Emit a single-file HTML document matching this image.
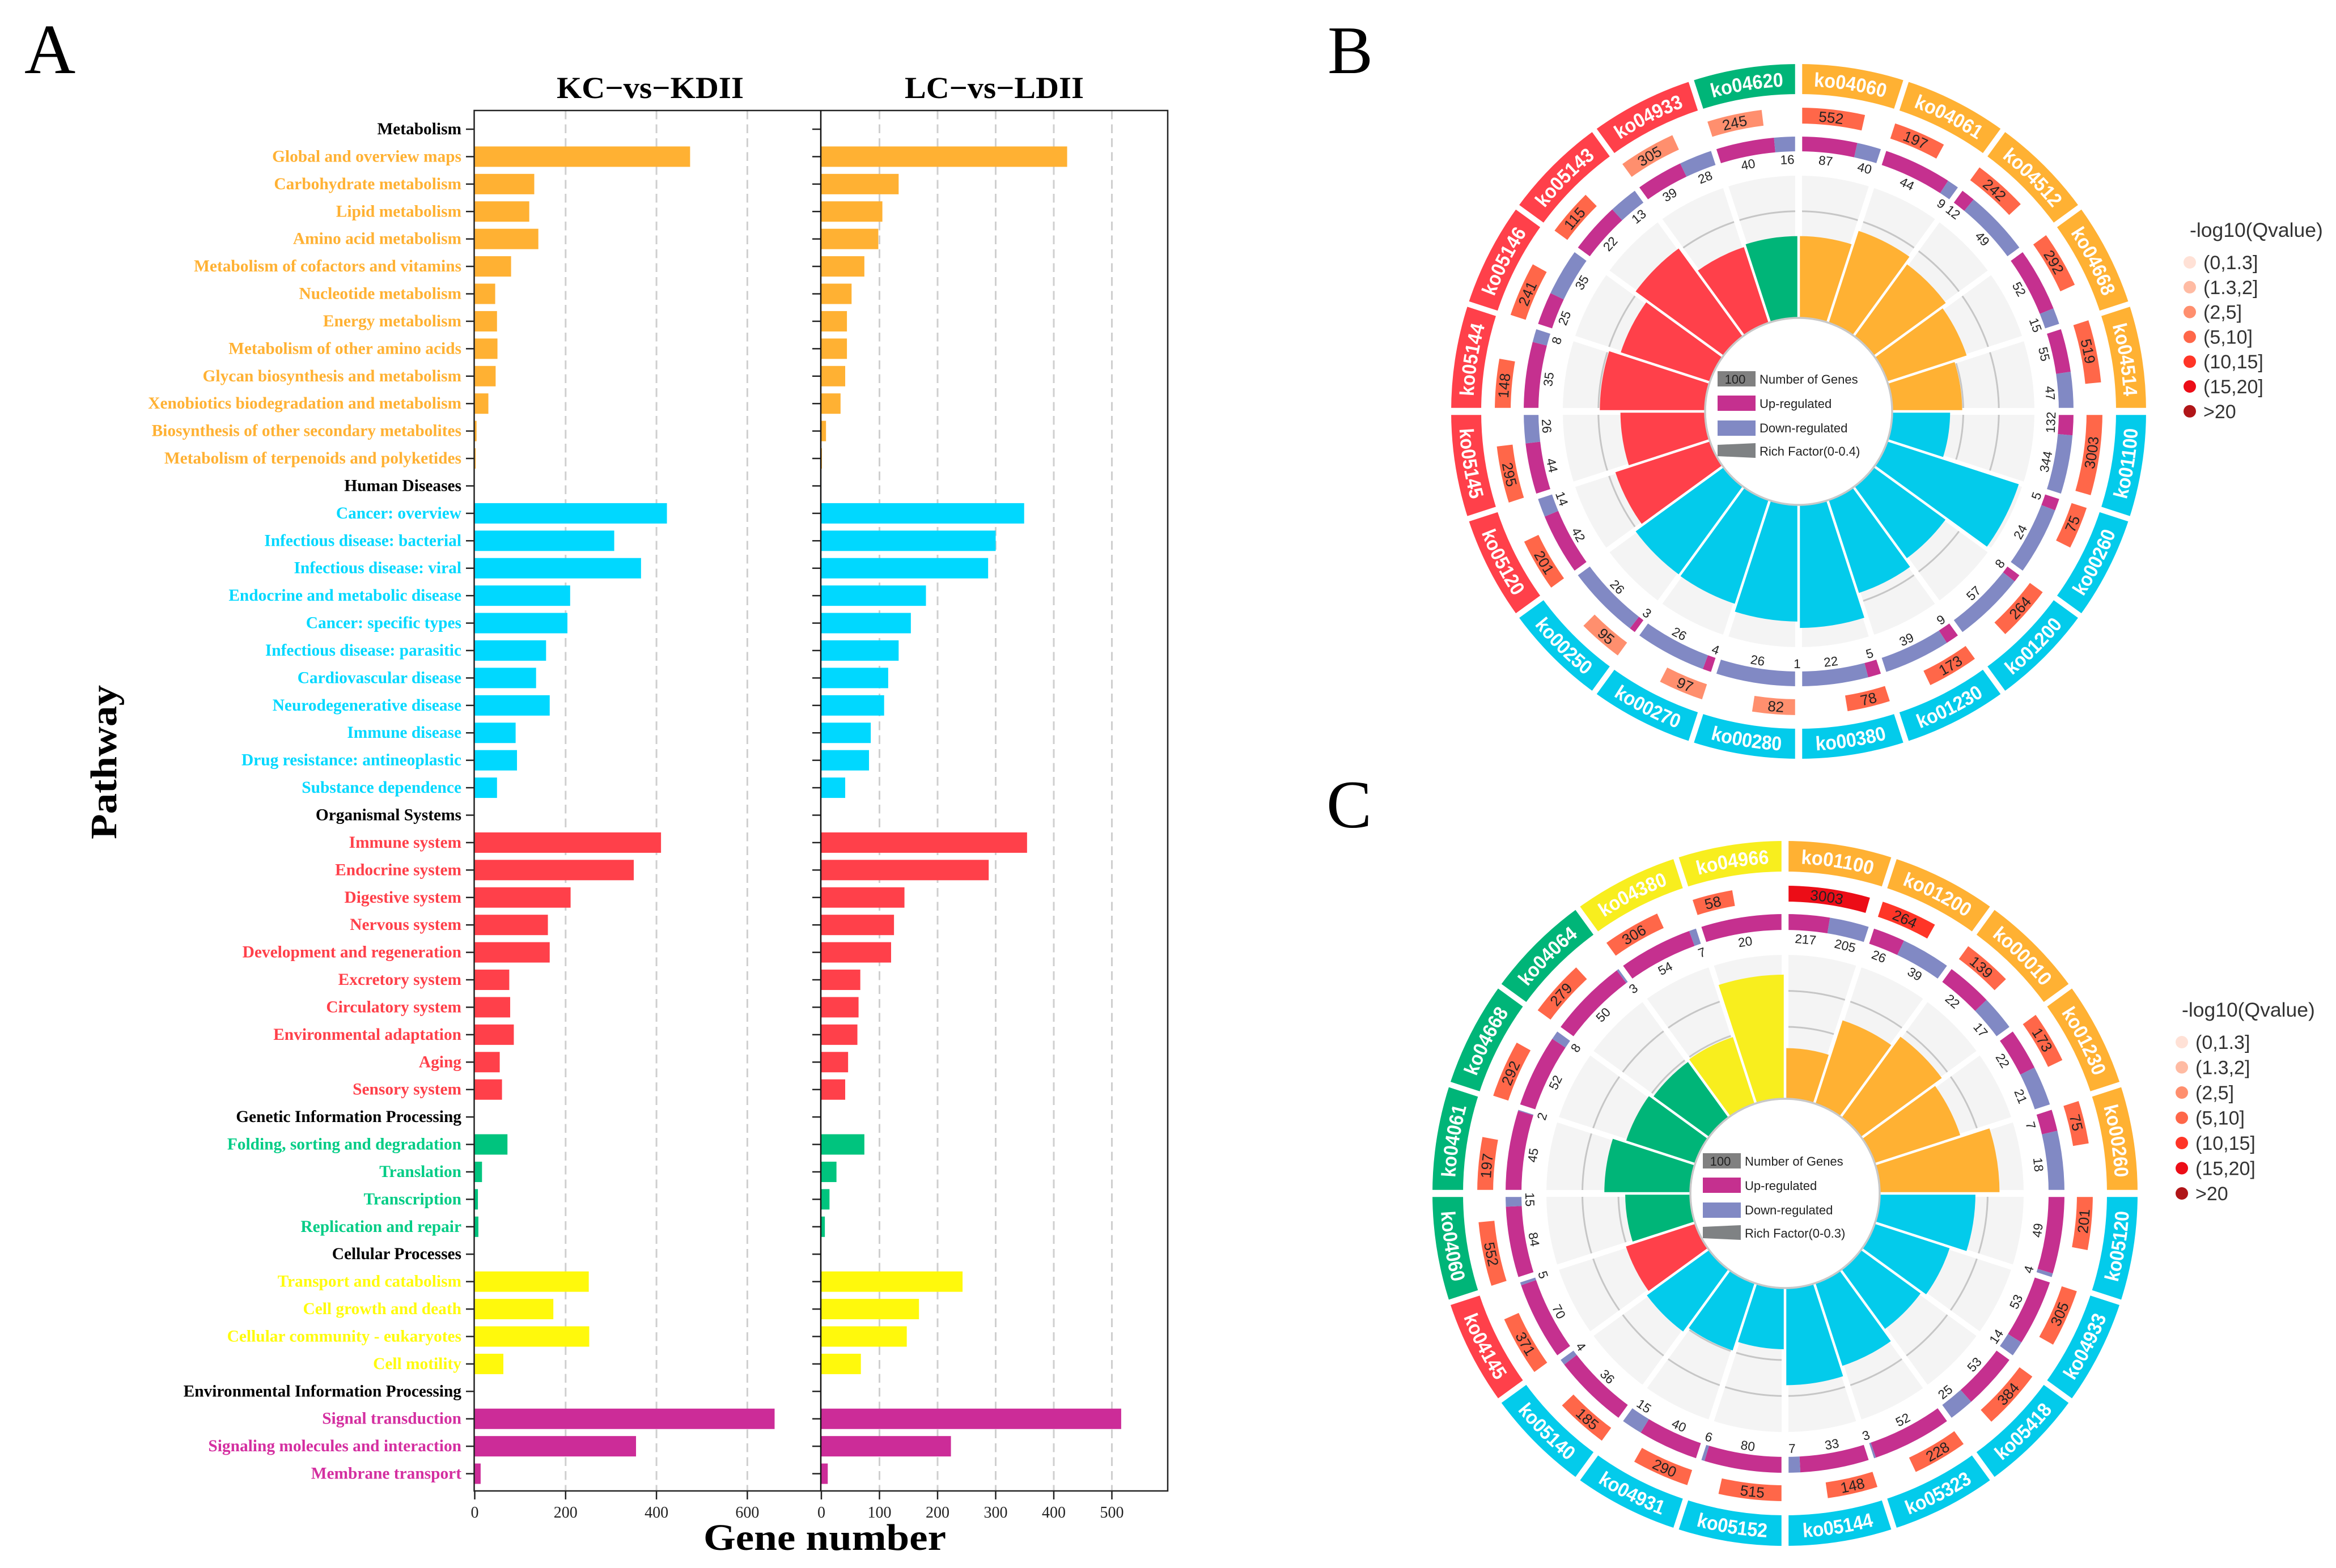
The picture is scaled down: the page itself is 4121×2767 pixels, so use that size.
<!DOCTYPE html>
<html lang="en">
<head>
<meta charset="utf-8">
<title>KEGG pathway bar charts and circular enrichment plots</title>
<style>
html,body{margin:0;padding:0;background:#fff;}
svg{display:block;}
</style>
</head>
<body>
<svg id="figure" xmlns="http://www.w3.org/2000/svg" width="4121" height="2767" viewBox="0 0 4121 2767" font-family="'Liberation Sans', sans-serif">
  <rect x="0" y="0" width="4121" height="2767" fill="#ffffff"/>
  <text x="43" y="129" font-family="'Liberation Serif', serif" font-size="125" fill="#000">A</text>
  <text x="2342" y="129" font-family="'Liberation Serif', serif" font-size="120" fill="#000">B</text>
  <text x="2340" y="1460" font-family="'Liberation Serif', serif" font-size="120" fill="#000">C</text>
  <text x="1147" y="173" text-anchor="middle" font-family="'Liberation Serif', serif" font-weight="bold" font-size="54" textLength="330" lengthAdjust="spacingAndGlyphs" fill="#000">KC−vs−KDII</text>
  <text x="1754" y="173" text-anchor="middle" font-family="'Liberation Serif', serif" font-weight="bold" font-size="54" textLength="316" lengthAdjust="spacingAndGlyphs" fill="#000">LC−vs−LDII</text>
  <text x="1455" y="2735" text-anchor="middle" font-family="'Liberation Serif', serif" font-weight="bold" font-size="66" textLength="428" lengthAdjust="spacingAndGlyphs" fill="#000">Gene number</text>
  <text transform="translate(205,1345) rotate(-90)" text-anchor="middle" font-family="'Liberation Serif', serif" font-weight="bold" font-size="66" textLength="272" lengthAdjust="spacingAndGlyphs" fill="#000">Pathway</text>
  <g id="bar-panels"></g>
  <g id="circle-b"></g>
  <g id="circle-c"></g>
</svg>
<script>
// ---------- Panel A data ----------
const pathways = ["Metabolism","Global and overview maps","Carbohydrate metabolism","Lipid metabolism","Amino acid metabolism","Metabolism of cofactors and vitamins","Nucleotide metabolism","Energy metabolism","Metabolism of other amino acids","Glycan biosynthesis and metabolism","Xenobiotics biodegradation and metabolism","Biosynthesis of other secondary metabolites","Metabolism of terpenoids and polyketides","Human Diseases","Cancer: overview","Infectious disease: bacterial","Infectious disease: viral","Endocrine and metabolic disease","Cancer: specific types","Infectious disease: parasitic","Cardiovascular disease","Neurodegenerative disease","Immune disease","Drug resistance: antineoplastic","Substance dependence","Organismal Systems","Immune system","Endocrine system","Digestive system","Nervous system","Development and regeneration","Excretory system","Circulatory system","Environmental adaptation","Aging","Sensory system","Genetic Information Processing","Folding, sorting and degradation","Translation","Transcription","Replication and repair","Cellular Processes","Transport and catabolism","Cell growth and death","Cellular community - eukaryotes","Cell motility","Environmental Information Processing","Signal transduction","Signaling molecules and interaction","Membrane transport"];
const pathwayClass = ["head","orange","orange","orange","orange","orange","orange","orange","orange","orange","orange","orange","orange","head","cyan","cyan","cyan","cyan","cyan","cyan","cyan","cyan","cyan","cyan","cyan","head","red","red","red","red","red","red","red","red","red","red","head","green","green","green","green","head","yellow","yellow","yellow","yellow","head","magenta","magenta","magenta"];
const kcGenes = [null,474,131,120,140,80,45,49,50,46,30,4,2,null,423,307,366,210,204,157,135,165,90,93,49,null,410,350,211,161,165,76,78,86,55,60,null,72,16,7,8,null,251,173,252,63,null,660,355,13];
const lcGenes = [null,423,133,105,98,74,52,44,44,41,33,8,1,null,349,300,287,180,154,133,115,108,85,82,41,null,354,288,143,125,120,67,64,62,46,41,null,74,26,14,6,null,243,168,147,68,null,516,223,11];
const kcTicks = [0,200,400,600];
const lcTicks = [0,100,200,300,400,500];

// ---------- Panel B data ----------
const bPathwayIds = ["ko04060","ko04061","ko04512","ko04668","ko04514","ko01100","ko00260","ko01200","ko01230","ko00380","ko00280","ko00270","ko00250","ko05120","ko05145","ko05144","ko05146","ko05143","ko04933","ko04620"];
const bClass = ["orange","orange","orange","orange","orange","cyan","cyan","cyan","cyan","cyan","cyan","cyan","cyan","red","red","red","red","red","red","green"];
const bTotals = [552,197,242,292,519,3003,75,264,173,78,82,97,95,201,295,148,241,115,305,245];
const bQLevels = [3,3,3,3,3,3,3,3,3,3,2,2,2,3,3,3,3,3,2,2];
const bUp = [87,44,12,52,55,132,5,8,9,5,1,4,3,42,44,35,25,22,39,40];
const bDown = [40,9,49,15,47,344,24,57,39,22,26,26,26,14,26,8,35,13,28,16];
const bRich = [0.230,0.272,0.251,0.235,0.197,0.163,0.389,0.250,0.275,0.346,0.328,0.307,0.306,0.280,0.238,0.296,0.264,0.306,0.224,0.230];

// ---------- Panel C data ----------
const cPathwayIds = ["ko01100","ko01200","ko00010","ko01230","ko00260","ko05120","ko04933","ko05418","ko05323","ko05144","ko05152","ko04931","ko05140","ko04145","ko04060","ko04061","ko04668","ko04064","ko04380","ko04966"];
const cClass = ["orange","orange","orange","orange","orange","cyan","cyan","cyan","cyan","cyan","cyan","cyan","cyan","red","green","green","green","green","yellow","yellow"];
const cTotals = [3003,264,139,173,75,201,305,384,228,148,515,290,185,371,552,197,292,279,306,58];
const cQLevels = [5,4,3,3,3,3,3,3,3,3,3,3,3,3,3,3,3,3,3,3];
const cUp = [217,26,22,22,7,49,53,53,52,33,80,40,36,70,84,45,52,50,54,20];
const cDown = [205,39,17,21,18,4,14,25,3,7,6,15,4,5,15,2,8,3,7,0];
const cRich = [0.141,0.244,0.278,0.250,0.333,0.266,0.219,0.205,0.242,0.270,0.170,0.197,0.214,0.203,0.181,0.239,0.202,0.191,0.195,0.345];

// ---------- Shared legend text ----------
const qLegendLabels = ["(0,1.3]","(1.3,2]","(2,5]","(5,10]","(10,15]","(15,20]",">20"];
const qLegendColors = ["#FFE1D6","#FFBBA3","#FF8F6E","#FF6749","#FF3527","#EC0D17","#B01518"];
const barColors = {head:"#000000",orange:"#FFB133",cyan:"#00D8FF",red:"#FF404A",green:"#00C47E",yellow:"#FFF90C",magenta:"#CC2C98"};
const labelColors = {head:"#000000",orange:"#FFB133",cyan:"#00D8FF",red:"#FF404A",green:"#00CC85",yellow:"#FFFB0C",magenta:"#D42FA0"};
const ringColors = {orange:"#FFB133",cyan:"#03CBEB",red:"#FF404A",green:"#00B578",yellow:"#F8EE1E"};

const NS = "http://www.w3.org/2000/svg";
function mk(tag, attrs, parent, text){
  const n = document.createElementNS(NS, tag);
  for (const k in attrs) n.setAttribute(k, attrs[k]);
  if (text !== undefined) n.textContent = text;
  parent.appendChild(n);
  return n;
}

// ---------- Panel A drawing ----------
const rowY = i => 228 + i * 48.42;
const kcX = v => 837.5 + v * 0.8015;
const lcX = v => 1449 + v * 1.025;
const panelTop = 195, panelBottom = 2631, panelRight = 2060;
const barRoot = document.getElementById("bar-panels");

function drawGrid(ticks, xFn, name){
  ticks.forEach(t => {
    if (t !== 0) {
      const g = mk("line",{x1:xFn(t),x2:xFn(t),y1:panelTop,y2:panelBottom,stroke:"#cfcfcf","stroke-width":3,"stroke-dasharray":"15.5 9"},barRoot);
      
      
    }
  });
}
function drawBars(values, xFn, name){
  values.forEach((v,i) => {
    if (v === null) return;
    const b = mk("rect",{x:xFn(0),y:rowY(i)-18,width:xFn(v)-xFn(0),height:36,fill:barColors[pathwayClass[i]]},barRoot);
    
    
  });
}
function drawXAxis(ticks, xFn, name){
  ticks.forEach(t => {
    const tk = mk("line",{x1:xFn(t),x2:xFn(t),y1:panelBottom,y2:panelBottom+15,stroke:"#222","stroke-width":2.5},barRoot);
    
    
    const lb = mk("text",{x:xFn(t),y:panelBottom+47,"text-anchor":"middle","font-family":"'Liberation Serif', serif","font-size":28,fill:"#222"},barRoot,String(t));
    
    
  });
}
drawGrid(kcTicks, kcX, "kc");
drawGrid(lcTicks, lcX, "lc");
drawBars(kcGenes, kcX, "kc");
drawBars(lcGenes, lcX, "lc");
pathways.forEach((name,i) => {
  const t = mk("text",{x:814,y:rowY(i)+9,"text-anchor":"end","font-family":"'Liberation Serif', serif","font-weight":"bold","font-size":29.4,fill:labelColors[pathwayClass[i]]},barRoot,name);
  
  
  const a = mk("line",{x1:822,x2:836,y1:rowY(i),y2:rowY(i),stroke:"#222","stroke-width":2.5},barRoot);
  
  
  const c = mk("line",{x1:1433,x2:1448,y1:rowY(i),y2:rowY(i),stroke:"#222","stroke-width":2.5},barRoot);
  
  
});
drawXAxis(kcTicks, kcX, "kc");
drawXAxis(lcTicks, lcX, "lc");
const kcFrame = mk("rect",{x:836.5,y:panelTop,width:panelRight-836.5,height:panelBottom-panelTop,fill:"none",stroke:"#222","stroke-width":2.5},barRoot);


const midLine = mk("line",{x1:1448,x2:1448,y1:panelTop,y2:panelBottom,stroke:"#111","stroke-width":2.5},barRoot);



// ---------- Circular plots ----------
let pathCounter = 0;
function pt(cx,cy,r,deg){
  const a = deg * Math.PI / 180;
  return [cx + r * Math.sin(a), cy - r * Math.cos(a)];
}
function sectorPath(cx,cy,r0,r1,a0,a1){
  const p0 = pt(cx,cy,r1,a0), p1 = pt(cx,cy,r1,a1), p2 = pt(cx,cy,r0,a1), p3 = pt(cx,cy,r0,a0);
  const lg = (a1 - a0) > 180 ? 1 : 0;
  return `M${p0[0].toFixed(2)} ${p0[1].toFixed(2)}A${r1} ${r1} 0 ${lg} 1 ${p1[0].toFixed(2)} ${p1[1].toFixed(2)}L${p2[0].toFixed(2)} ${p2[1].toFixed(2)}A${r0} ${r0} 0 ${lg} 0 ${p3[0].toFixed(2)} ${p3[1].toFixed(2)}Z`;
}
function curvedText(root, defs, cx, cy, rMid, midDeg, fs, str, fill, weight, name, fitLength){
  const norm = ((midDeg % 360) + 360) % 360;
  const top = norm < 90 || norm > 270;
  const r = top ? rMid - 0.36 * fs : rMid + 0.36 * fs;
  const span = 40;
  const from = pt(cx,cy,r, top ? midDeg - span : midDeg + span);
  const to = pt(cx,cy,r, top ? midDeg + span : midDeg - span);
  const id = "arc-path-" + (++pathCounter);
  const d = `M${from[0].toFixed(2)} ${from[1].toFixed(2)}A${r} ${r} 0 0 ${top ? 1 : 0} ${to[0].toFixed(2)} ${to[1].toFixed(2)}`;
  mk("path",{id:id,d:d,fill:"none"},defs);
  const t = mk("text",{"font-size":fs,"font-weight":weight,fill:fill,"text-anchor":"middle"},root);
  
  
  const tp = mk("textPath",{href:"#"+id,startOffset:"50%"},t,str);
  if (fitLength) {
    tp.setAttribute("textLength", fitLength);
    tp.setAttribute("lengthAdjust", "spacingAndGlyphs");
  }
  return tp;
}
function radialGap(root,cx,cy,r0,r1,deg,w,name){
  const a = pt(cx,cy,r0,deg), b = pt(cx,cy,r1,deg);
  const l = mk("line",{x1:a[0],y1:a[1],x2:b[0],y2:b[1],stroke:"#fff","stroke-width":w},root);
  
  
}
function drawCircle(root, ids, classes, totals, levels, up, down, rich, cfg){
  const cx = cfg.cx, cy = cfg.cy, n = ids.length, step = 360 / n;
  const defs = mk("defs",{},root);
  const richR = v => cfg.hole + (cfg.gray - cfg.hole) * v / 0.4;
  const isCard = i => (i * step) % 90 === 0;

  // grey rich-factor background and grid arcs
  for (let i = 0; i < n; i++) {
    const g = mk("path",{d:sectorPath(cx,cy,cfg.hole,cfg.gray,i*step,(i+1)*step),fill:"#F4F4F4"},root);
    
    
  }
  [0.1,0.2,0.3].forEach(v => {
    const c = mk("circle",{cx:cx,cy:cy,r:richR(v),fill:"none",stroke:"#C6C6C6","stroke-width":3},root);
    
    
  });
  for (let i = 0; i < n; i++) {
    radialGap(root,cx,cy,cfg.hole,cfg.gray+3,i*step,isCard(i)?12:10,'sector-gap');
  }
  // rich-factor bars
  for (let i = 0; i < n; i++) {
    const b = mk("path",{d:sectorPath(cx,cy,cfg.hole-2,richR(rich[i]),i*step,(i+1)*step),fill:ringColors[classes[i]]},root);
    
    
  }
  for (let i = 0; i < n; i++) {
    const reach = Math.max(richR(rich[i]), richR(rich[(i + n - 1) % n])) + 2;
    radialGap(root,cx,cy,cfg.hole,reach,i*step,4.5,'bar-gap');
  }

  // up / down ring
  for (let i = 0; i < n; i++) {
    const a0 = i * step, tot = up[i] + down[i], split = a0 + step * up[i] / tot;
    const u = mk("path",{d:sectorPath(cx,cy,cfg.ud0,cfg.ud1,a0,split),fill:"#C5308F"},root);
    
    
    if (down[i] > 0) {
      const d = mk("path",{d:sectorPath(cx,cy,cfg.ud0,cfg.ud1,split,a0+step),fill:"#8189C4"},root);
      
      
    }
  }
  // total gene boxes (angular width grows with the log of the total)
  for (let i = 0; i < n; i++) {
    const a0 = i * step, w = Math.min(step - 1, 2 * Math.log(totals[i]));
    const q = mk("path",{d:sectorPath(cx,cy,cfg.q0,cfg.q1,a0,a0+w),fill:qLegendColors[levels[i]]},root);
    
    
  }
  // outer pathway ring
  for (let i = 0; i < n; i++) {
    const o = mk("path",{d:sectorPath(cx,cy,cfg.o0,cfg.o1,i*step,(i+1)*step),fill:ringColors[classes[i]]},root);
    
    
  }
  for (let i = 0; i < n; i++) {
    radialGap(root,cx,cy,cfg.gray+4,cfg.o1+3,i*step,isCard(i)?12.5:10,'ring-gap');
  }
  // ring text
  for (let i = 0; i < n; i++) {
    const a0 = i * step, mid = a0 + step / 2;
    curvedText(root,defs,cx,cy,(cfg.o0+cfg.o1)/2,mid,35,ids[i],"#fff","bold",'pathway-id-label',127);
    const w = Math.min(step - 1, 2 * Math.log(totals[i]));
    curvedText(root,defs,cx,cy,(cfg.q0+cfg.q1)/2,a0+w/2,26,String(totals[i]),"#222","normal",'gene-total-label');
    const tot = up[i] + down[i], split = a0 + step * up[i] / tot;
    const entries = down[i] > 0 ? [[up[i],(a0+split)/2],[down[i],(split+a0+step)/2]] : [[up[i],(a0+split)/2]];
    entries.forEach(e => {
      const p = pt(cx,cy,cfg.num,e[1]);
      const norm = ((e[1] % 360) + 360) % 360;
      const rot = (norm < 90 || norm > 270) ? e[1] : e[1] + 180;
      const t = mk("text",{x:0,y:8,"text-anchor":"middle","font-size":22.5,fill:"#222",transform:`translate(${p[0].toFixed(2)},${p[1].toFixed(2)}) rotate(${rot})`},root,String(e[0]));
      
      
    });
  }
  // centre hole and legend
  const hole = mk("circle",{cx:cx,cy:cy,r:cfg.hole,fill:"#fff",stroke:"#C8C8C8","stroke-width":3.5},root);
  
  
  const sx = cx + cfg.swatchX, sw = 67, tx = sx + 74;
  const s1 = mk("rect",{x:sx,y:cy-71,width:sw,height:27,fill:"#808080"},root);
  
  
  const s1t = mk("text",{x:sx+31,y:cy-49,"text-anchor":"middle","font-size":22,fill:"#222"},root,"100");
  
  
  const s2 = mk("rect",{x:sx,y:cy-28,width:sw,height:27,fill:"#C5308F"},root);
  
  
  const s3 = mk("rect",{x:sx,y:cy+16,width:sw,height:27,fill:"#8189C4"},root);
  
  
  const s4 = mk("polygon",{points:`${sx},${cy+59} ${sx+sw},${cy+56} ${sx+sw},${cy+82} ${sx},${cy+79}`,fill:"#7F8284"},root);
  
  
  [["Number of Genes",-49],["Up-regulated",-6],["Down-regulated",37],[cfg.richLabel,78]].forEach(row => {
    const t = mk("text",{x:tx,y:cy+row[1],"font-size":22,fill:"#222"},root,row[0]);
    
    
  });
  // q-value legend
  const title = mk("text",{x:cfg.legX,y:cfg.legTitleY,"font-size":35.5,fill:"#333"},root,"-log10(Qvalue)");
  
  
  qLegendLabels.forEach((lab,i) => {
    const y = cfg.legY + i * cfg.legStep;
    const dot = mk("circle",{cx:cfg.legX,cy:y,r:11,fill:qLegendColors[i]},root);
    
    
    const t = mk("text",{x:cfg.legX+24,y:y+12,"font-size":34,fill:"#333"},root,lab);
    
    
  });
}

drawCircle(document.getElementById("circle-b"), bPathwayIds, bClass, bTotals, bQLevels, bUp, bDown, bRich,
  {cx:3173,cy:726,hole:165,gray:416,ud0:459,ud1:485,q0:508,q1:536,o0:560,o1:613,num:445,swatchX:-143,richLabel:"Rich Factor(0-0.4)",legX:3863,legTitleY:418,legY:463,legStep:43.8});
drawCircle(document.getElementById("circle-c"), cPathwayIds, cClass, cTotals, cQLevels, cUp, cDown, cRich,
  {cx:3149,cy:2106,hole:167,gray:421,ud0:465,ud1:493,q0:515,q1:543,o0:568,o1:622,num:450,swatchX:-145,richLabel:"Rich Factor(0-0.3)",legX:3849,legTitleY:1794,legY:1839,legStep:44.5});
</script>
</body>
</html>
